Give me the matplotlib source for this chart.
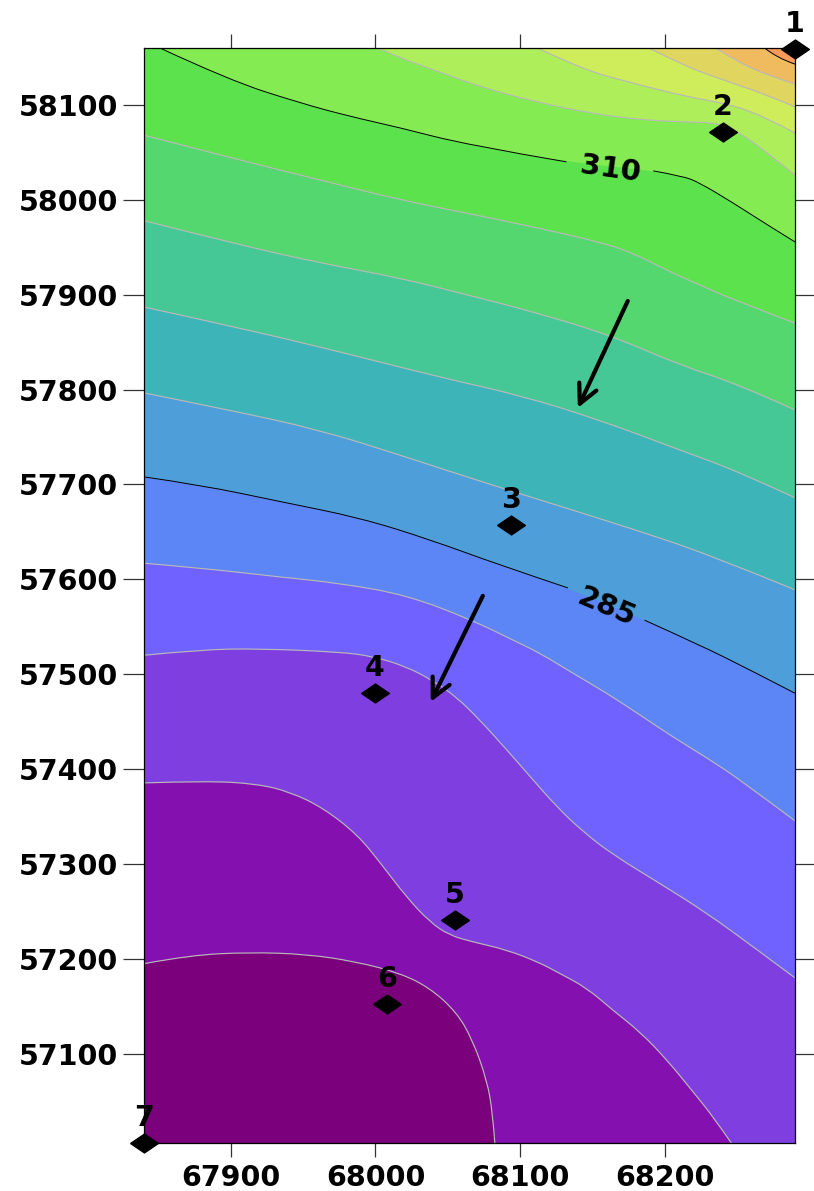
import matplotlib
matplotlib.use('Agg')
import matplotlib.pyplot as plt
from matplotlib.path import Path
from matplotlib.patches import PathPatch

# map extent
x_min, x_max = 67840, 68290
y_min, y_max = 57006, 58160

x_ticks = [67900, 68000, 68100, 68200]
y_ticks = [57100, 57200, 57300, 57400, 57500, 57600, 57700, 57800, 57900, 58000, 58100]

# contour lines, lowest level first
c1_x = [67840, 67872, 67913, 67952.5, 67987, 68017, 68037.5, 68056, 68067, 68077, 68081, 68082.5]
c1_y = [57195, 57204, 57207, 57205, 57197, 57185, 57169.5, 57144, 57115, 57072.5, 57037.7, 57006]
c2_x = [67840, 67883.5, 67918, 67941, 67964, 67987.5, 68003, 68021.5, 68037.5, 68051, 68067, 68091,
        68113.5, 68127, 68146, 68164, 68183, 68201.5, 68219.5, 68233.5, 68246]
c2_y = [57385.5, 57387.6, 57384.5, 57376, 57359, 57331, 57302, 57265, 57239, 57225, 57218, 57209.5,
        57196, 57185, 57169.5, 57146, 57123, 57093.6, 57060, 57033.5, 57006]
c3_x = [67840, 67879, 67920, 67975, 67998, 68021.5, 68040, 68056, 68072, 68091, 68107, 68125.5,
        68143.5, 68164, 68195, 68229, 68264, 68290]
c3_y = [57520, 57526, 57527, 57523.5, 57519, 57508, 57493, 57476, 57452, 57420, 57392, 57360,
        57334, 57310, 57281, 57248.5, 57209.5, 57180]
c4_x = [67840, 67879, 67934, 67975, 68021.5, 68067, 68095, 68113.5, 68136.5, 68160, 68183, 68205.5,
        68229, 68252, 68290]
c4_y = [57617, 57612, 57602.5, 57596, 57583.6, 57557, 57536, 57522.5, 57501, 57480, 57457, 57434,
        57412, 57389, 57345.5]
c5_x = [67840, 67879, 67934, 67989, 68037.5, 68086, 68133, 68186, 68224, 68259, 68290]
c5_y = [57708, 57699.5, 57682, 57665, 57642, 57615, 57591, 57557, 57531, 57504.5, 57480]
c6_x = [67840, 67899, 67961.5, 68017, 68065, 68120.5, 68176, 68231, 68290]
c6_y = [57796.5, 57778.5, 57757.5, 57731, 57707, 57680.5, 57654, 57626, 57589]
c7_x = [67840, 67906, 67975, 68044.5, 68100, 68155, 68210, 68252, 68290]
c7_y = [57887, 57865, 57840, 57813, 57794, 57768, 57736.5, 57713, 57686]
c8_x = [67840, 67906, 67961.5, 68017, 68063, 68109, 68162, 68210, 68252, 68290]
c8_y = [57978, 57952.5, 57933.5, 57917.7, 57900, 57882, 57857.6, 57826, 57805, 57778.5]
c9_x = [67840, 67906, 67961.5, 68017, 68063, 68109, 68155, 68178, 68201, 68224.5, 68247, 68290]
c9_y = [58068, 58042, 58021, 57999.9, 57986, 57971.5, 57955.6, 57944, 57926, 57910, 57895, 57870]
c10_x = [67851, 67899, 67948, 67982, 68017, 68063, 68132, 68192, 68212.5, 68224, 68247, 68271, 68290]
c10_y = [58160, 58126, 58102, 58088, 58076, 58058, 58040, 58030.5, 58025, 58018, 57997, 57973.5, 57955.6]
c11_x = [68001.6, 68017, 68040, 68074.5, 68109, 68143.5, 68178, 68212.5, 68238, 68252, 68271, 68290]
c11_y = [58160, 58149.5, 58137, 58118, 58104, 58092.6, 58085, 58082, 58081, 58070.5, 58049.4, 58026]
c12_x = [68112, 68143.5, 68178, 68212.5, 68247, 68271, 68290]
c12_y = [58160, 58137, 58123, 58109.5, 58100, 58086, 58070.5]
c13_x = [68189, 68212.5, 68236, 68271, 68290]
c13_y = [58160, 58142, 58128.5, 58110.5, 58098]
c14_x = [68235, 68252, 68271, 68290]
c14_y = [58160, 58144, 58131.6, 58122]
c15_x = [68269, 68277.5, 68290]
c15_y = [58160, 58149.5, 58143]

contours = [(c1_x, c1_y), (c2_x, c2_y), (c3_x, c3_y), (c4_x, c4_y), (c5_x, c5_y),
            (c6_x, c6_y), (c7_x, c7_y), (c8_x, c8_y), (c9_x, c9_y), (c10_x, c10_y),
            (c11_x, c11_y), (c12_x, c12_y), (c13_x, c13_y), (c14_x, c14_y), (c15_x, c15_y)]

base_colour = '#7b007b'
band_colours = ['#8410b0', '#7f3fe0', '#6f62ff', '#5c85f5', '#4d9ed9', '#3cb4b8', '#46c896',
                '#54d76f', '#5ce24d', '#84ec52', '#aeee5a', '#cfec5b', '#e0d65f', '#f0bb5e', '#f79a5a']
# labelled contours keep a gap for their label
gaps = {4: (68133, 68186), 9: (68132, 68192)}
black_lines = [4, 9, 14]

# control points
well_names = ['1', '2', '3', '4', '5', '6', '7']
well_x = [68290, 68240, 68093.5, 67999.5, 68055, 68008, 67840]
well_y = [58159, 58071.5, 57657.5, 57480, 57241, 57152.5, 57006]

# flow arrows (tail, head)
arrow_tail_x = [68174.4, 68074.2]
arrow_tail_y = [57893.4, 57582.6]
arrow_head_x = [68139.9, 68038.2]
arrow_head_y = [57780.7, 57470.9]


def smooth_path(xs, ys, tail=()):
    # quadratic curves through segment midpoints, tail is joined with straight lines
    verts = [(xs[0], ys[0])]
    codes = [Path.MOVETO]
    for i in range(1, len(xs) - 1):
        verts.append((xs[i], ys[i]))
        codes.append(Path.CURVE3)
        if i < len(xs) - 2:
            verts.append(((xs[i] + xs[i + 1]) / 2, (ys[i] + ys[i + 1]) / 2))
        else:
            verts.append((xs[-1], ys[-1]))
        codes.append(Path.CURVE3)
    if len(xs) == 2:
        verts.append((xs[1], ys[1]))
        codes.append(Path.LINETO)
    for p in tail:
        verts.append(p)
        codes.append(Path.LINETO)
    return Path(verts, codes)


fig = plt.figure(figsize=(8.14, 11.91), dpi=100)
ax = fig.add_axes([144 / 814, 1 - 1143 / 1191, 651 / 814, 1095 / 1191])
ax.set_xlim(x_min, x_max)
ax.set_ylim(y_min, y_max)
ax.set_facecolor(base_colour)

# paint bands from low to high, each one covers everything up to the top right corner
for (cx, cy), colour in zip(contours, band_colours):
    tail = []
    if cy[-1] == y_min:
        tail.append((x_max, y_min))
    tail.append((x_max, y_max))
    if cx[0] == x_min:
        tail.append((x_min, y_max))
    tail.append((cx[0], cy[0]))
    ax.add_patch(PathPatch(smooth_path(cx, cy, tail), facecolor=colour, edgecolor='none', lw=0))

for i, (cx, cy) in enumerate(contours):
    colour = 'black' if i in black_lines else '#b9b9b9'
    lw = 0.7 if i in black_lines else 0.85
    if i in gaps:
        left = [k for k in range(len(cx)) if cx[k] <= gaps[i][0]]
        right = [k for k in range(len(cx)) if cx[k] >= gaps[i][1]]
        parts = [left, right]
    else:
        parts = [list(range(len(cx)))]
    for part in parts:
        line = smooth_path([cx[k] for k in part], [cy[k] for k in part])
        ax.add_patch(PathPatch(line, facecolor='none', edgecolor=colour, lw=lw))

font = {'family': 'DejaVu Sans', 'fontweight': 'bold', 'fontsize': 20.5, 'color': 'black'}
contour_font = dict(font, fontsize=21)

ax.text(68162, 58032, '310', rotation=-8, ha='center', va='center', **contour_font)
ax.text(68160, 57570, '285', rotation=-23, ha='center', va='center', **contour_font)

for tx, ty, hx, hy in zip(arrow_tail_x, arrow_tail_y, arrow_head_x, arrow_head_y):
    ax.annotate('', xy=(hx, hy), xytext=(tx, ty),
                arrowprops=dict(arrowstyle='->,head_length=0.8,head_width=0.4', color='black',
                                lw=3, mutation_scale=17, shrinkA=0, shrinkB=0))

diamond = [(-1, 0), (0, 0.68), (1, 0), (0, -0.68), (-1, 0)]
ax.plot(well_x, well_y, ls='none', marker=diamond, ms=20, color='black', clip_on=False, zorder=5)
for name, wx, wy in zip(well_names, well_x, well_y):
    ax.annotate(name, (wx, wy), xytext=(0, 18), textcoords='offset points', ha='center', va='center',
                annotation_clip=False, zorder=6, **font)

ax.set_xticks(x_ticks, labels=[str(v) for v in x_ticks], **font)
ax.set_yticks(y_ticks, labels=[str(v) for v in y_ticks], **font)
ax.tick_params(axis='x', top=True, length=10, width=0.9, color='#333333', pad=5)
ax.tick_params(axis='y', right=True, length=15, width=0.9, color='#333333', pad=3.5)
for side in ax.spines.values():
    side.set_linewidth(0.9)
    side.set_color('black')

fig.savefig('out.png', dpi=100)
